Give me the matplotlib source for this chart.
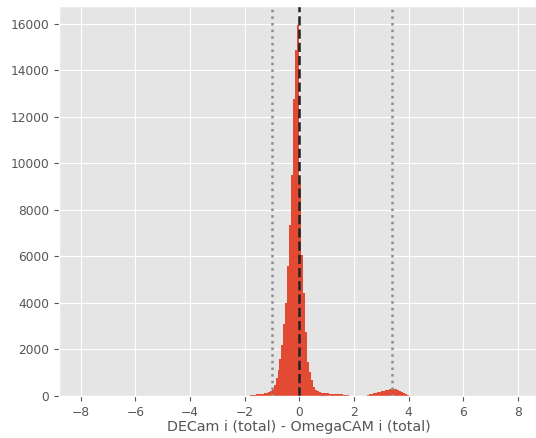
import numpy as np
import matplotlib
matplotlib.use("Agg")
import matplotlib.pyplot as plt

# histogram set-up: 220 bins between -8 and 8
hist_range = (-8, 8)
n_bins = 220
first_bin = 85  # index of the first non-empty bin (left edge ~ -1.82)

# counts, from the first non-empty bin onwards
counts = [
    40, 50, 60, 70, 80, 85, 95, 110, 140, 170,
    220, 320, 480, 760, 1100, 1600, 2200, 3100, 4000, 5600,
    7340, 9480, 12780, 14880, 15950,
    9140, 6050, 4420, 2760, 1470, 1040, 690, 400, 260,
    200, 170, 150, 130, 120, 110, 100, 95, 90, 85, 80, 75, 70, 50, 40, 30,
    0, 0, 0, 0, 0, 0, 0, 0, 0,
    50, 70, 90, 110, 130, 160, 180, 200, 220, 250, 270, 290, 300, 300,
    280, 250, 200, 160, 120, 80, 50,
]

median_line = 0.0
peak_lines = [-1.0, 3.4]
xlabel = "DECam i (total) - OmegaCAM i (total)"


def main():
    plt.style.use("ggplot")

    edges = np.linspace(hist_range[0], hist_range[1], n_bins + 1)
    centers = (edges[:-1] + edges[1:]) / 2
    weights = np.zeros(n_bins)
    weights[first_bin:first_bin + len(counts)] = counts

    fig = plt.figure(figsize=(5.36, 4.38), dpi=100)
    ax = fig.add_axes([0.110, 0.0959, 0.897, 0.890])

    ax.hist(centers, bins=edges, weights=weights)
    ax.axvline(median_line, color="#222222", linestyle="--", linewidth=1.8)
    for x in peak_lines:
        ax.axvline(x, color="#8c8c8c", linestyle=":", linewidth=1.8)

    ax.set_xlabel(xlabel, fontsize=10.3, color="#555555", labelpad=1)
    ax.set_xticks(np.arange(-8, 9, 2))
    ax.tick_params(labelsize=8.8)

    fig.savefig("out.png", dpi=100)


if __name__ == "__main__":
    main()
